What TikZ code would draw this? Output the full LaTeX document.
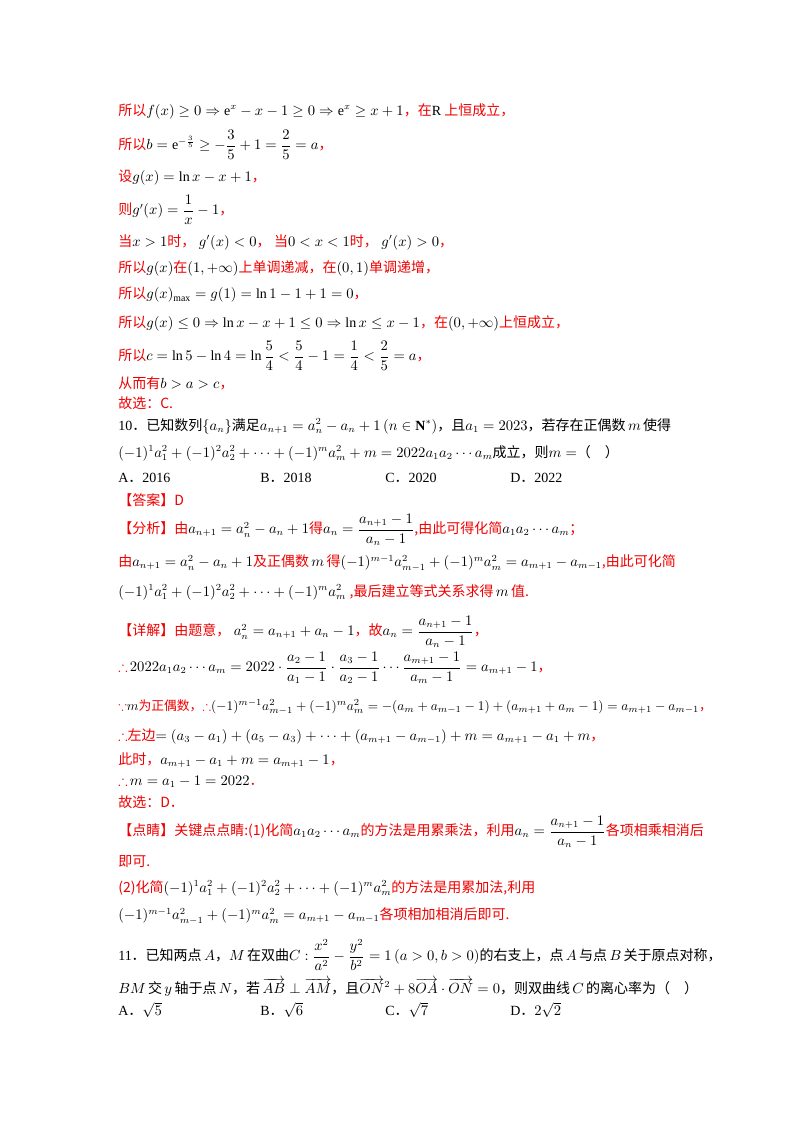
\documentclass[tikz,border=0pt]{standalone}
\usepackage{amsmath,amssymb}
\usepackage{fontspec}
\setmainfont{Liberation Serif}
\newfontfamily\cjk{Noto Sans CJK SC}
\newcommand{\zh}[1]{{\cjk #1}}
\newcommand{\rz}[1]{{\color{red}\cjk #1}}
\definecolor{red}{RGB}{240,0,0}
\tikzset{ln/.style={anchor=west,inner sep=0pt,font=\fontsize{10.5}{12}\selectfont}}
\begin{document}
\begin{tikzpicture}[x=0.75pt,y=-0.75pt]
\useasboundingbox[fill=white] (0,0) rectangle (800,1132);
\node[ln] (l1) at (118,111) {\rz{所以}$f(x)\ge0\Rightarrow \mathrm{e}^x-x-1\ge0\Rightarrow\mathrm{e}^x\ge x+1$\rz{，在}R\rz{ 上恒成立，}};
\node[ln] (l2) at (118,145) {\rz{所以}$b=\mathrm{e}^{-\frac35}\ge-\dfrac35+1=\dfrac25=a$\rz{，}};
\node[ln] (l3) at (118,178) {\rz{设}$g(x)=\ln x-x+1$\rz{，}};
\node[ln] (l4) at (118,210) {\rz{则}$g'(x)=\dfrac1x-1$\rz{，}};
\node[ln] (l5) at (118,242) {\rz{当}$x>1$\rz{时，}\ $g'(x)<0$\rz{，}\ \rz{当}$0<x<1$\rz{时，}\ $g'(x)>0$\rz{，}};
\node[ln] (l6) at (118,268) {\rz{所以}$g(x)$\rz{在}$(1,+\infty)$\rz{上单调递减，在}$(0,1)$\rz{单调递增，}};
\node[ln] (l7) at (118,295) {\rz{所以}$g(x)_{\max}=g(1)=\ln1-1+1=0$\rz{，}};
\node[ln] (l8) at (118,323) {\rz{所以}$g(x)\le0\Rightarrow\ln x-x+1\le0\Rightarrow\ln x\le x-1$\rz{，在}$(0,+\infty)$\rz{上恒成立，}};
\node[ln] (l9) at (118,356) {\rz{所以}$c=\ln5-\ln4=\ln\dfrac54<\dfrac54-1=\dfrac14<\dfrac25=a$\rz{，}};
\node[ln] (l10) at (118,383) {\rz{从而有}$b>a>c$\rz{，}};
\node[ln] (l11) at (118,403) {\rz{故选：C.}};
\node[ln] (q1) at (118,426) {10\zh{．已知数列}$\{a_n\}$\zh{满足}$a_{n+1}=a_n^2-a_n+1\,(n\in\mathbf{N}^*)$\zh{，且}$a_1=2023$\zh{，若存在正偶数}\,$m$\,\zh{使得}};
\node[ln] (q2) at (118,453) {$(-1)^1a_1^2+(-1)^2a_2^2+\cdots+(-1)^m a_m^2+m=2022a_1a_2\cdots a_m$\zh{成立，则}$m=$\zh{（\quad）}};
\node[ln] (qa) at (118,478) {A\zh{．}2016};
\node[ln] (qb) at (260,478) {B\zh{．}2018};
\node[ln] (qc) at (385,478) {C\zh{．}2020};
\node[ln] (qd) at (510,478) {D\zh{．}2022};
\node[ln] (ans) at (118,500) {\rz{【答案】D}};
\node[ln] (an1) at (118,530) {\rz{【分析】由}$a_{n+1}=a_n^2-a_n+1$\rz{得}$a_n=\dfrac{a_{n+1}-1}{a_n-1}$\rz{,由此可得化简}$a_1a_2\cdots a_m$\rz{；}};
\node[ln] (an2) at (118,563) {\rz{由}$a_{n+1}=a_n^2-a_n+1$\rz{及正偶数}\,$m$\,\rz{得}$(-1)^{m-1}a_{m-1}^2+(-1)^m a_m^2=a_{m+1}-a_{m-1}$\rz{,由此可化简}};
\node[ln] (an3) at (118,592) {$(-1)^1a_1^2+(-1)^2a_2^2+\cdots+(-1)^m a_m^2$\ \rz{,最后建立等式关系求得}\,$m$\,\rz{值.}};
\node[ln] (d1) at (118,632) {\rz{【详解】由题意，}\ $a_n^2=a_{n+1}+a_n-1$\rz{，故}$a_n=\dfrac{a_{n+1}-1}{a_n-1}$\rz{，}};
\node[ln] (d2) at (118,668) {\color{red}$\therefore$\color{black}\,$2022a_1a_2\cdots a_m=2022\cdot\dfrac{a_2-1}{a_1-1}\cdot\dfrac{a_3-1}{a_2-1}\cdots\dfrac{a_{m+1}-1}{a_m-1}=a_{m+1}-1$\rz{，}};
\node[ln,font=\fontsize{9.6}{11}\selectfont] (d3) at (118,707) {\color{red}$\because$\color{black}$m$\rz{为正偶数，}\color{red}$\therefore$\color{black}$(-1)^{m-1}a_{m-1}^2+(-1)^m a_m^2=-(a_m+a_{m-1}-1)+(a_{m+1}+a_m-1)=a_{m+1}-a_{m-1}$\rz{，}};
\node[ln] (d4) at (118,736) {\color{red}$\therefore$\color{black}\rz{左边}$=(a_3-a_1)+(a_5-a_3)+\cdots+(a_{m+1}-a_{m-1})+m=a_{m+1}-a_1+m$\rz{，}};
\node[ln] (d5) at (118,760) {\rz{此时，}$a_{m+1}-a_1+m=a_{m+1}-1$\rz{，}};
\node[ln] (d6) at (118,782) {\color{red}$\therefore$\color{black}\,$m=a_1-1=2022$\rz{．}};
\node[ln] (d7) at (118,802) {\rz{故选：D．}};
\node[ln] (p1) at (118,832) {\rz{【点睛】关键点点睛:(1)化简}$a_1a_2\cdots a_m$\rz{的方法是用累乘法，利用}$a_n=\dfrac{a_{n+1}-1}{a_n-1}$\rz{各项相乘相消后}};
\node[ln] (p2) at (118,862) {\rz{即可.}};
\node[ln] (p3) at (118,888) {\rz{(2)化简}$(-1)^1a_1^2+(-1)^2a_2^2+\cdots+(-1)^m a_m^2$\rz{的方法是用累加法,利用}};
\node[ln] (p4) at (118,916) {$(-1)^{m-1}a_{m-1}^2+(-1)^m a_m^2=a_{m+1}-a_{m-1}$\rz{各项相加相消后即可.}};
\node[ln] (e1) at (118,955) {11\zh{．已知两点}\,$A$\zh{，}$M$\,\zh{在双曲}$C:\dfrac{x^2}{a^2}-\dfrac{y^2}{b^2}=1\,(a>0,b>0)$\zh{的右支上，点}\,$A$\,\zh{与点}\,$B$\,\zh{关于原点对称，}};
\node[ln] (e2) at (118,987) {$BM$\,\zh{交}\,$y$\,\zh{轴于点}\,$N$\zh{，若}\,$\overrightarrow{AB}\perp\overrightarrow{AM}$\zh{，且}$\overrightarrow{ON}^2+8\overrightarrow{OA}\cdot\overrightarrow{ON}=0$\zh{，则双曲线}\,$C$\,\zh{的离心率为（\quad）}};
\node[ln] (ea) at (118,1010) {A\zh{．}$\sqrt5$};
\node[ln] (eb) at (260,1010) {B\zh{．}$\sqrt6$};
\node[ln] (ec) at (385,1010) {C\zh{．}$\sqrt7$};
\node[ln] (ed) at (510,1010) {D\zh{．}$2\sqrt2$};
\end{tikzpicture}
\end{document}
